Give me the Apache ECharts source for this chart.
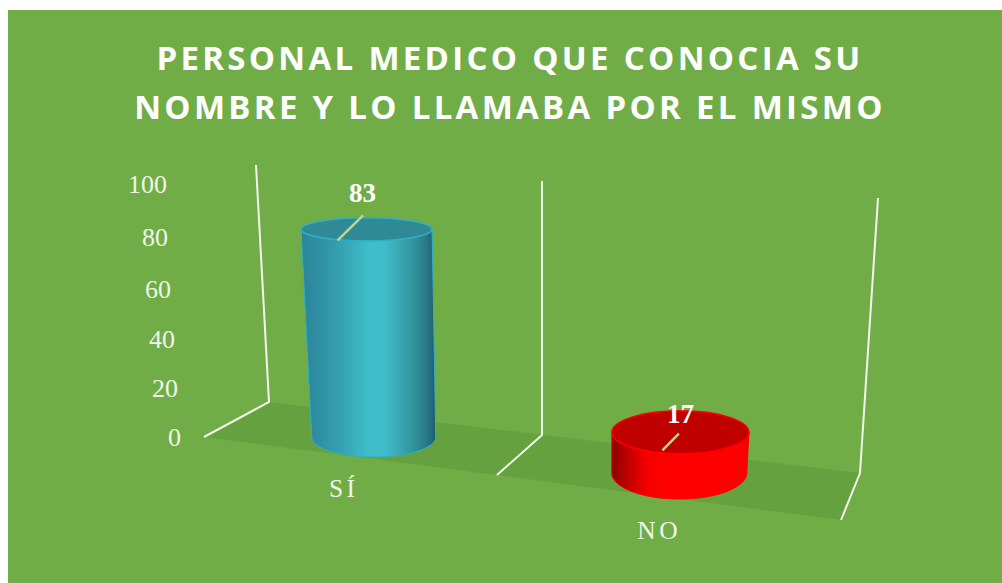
<!DOCTYPE html>
<html><head><meta charset="utf-8">
<style>
html,body{margin:0;padding:0;background:#fff;width:1002px;height:583px;overflow:hidden}
#c{width:1002px;height:583px}
#c text[style*="Open Sans"]{letter-spacing:3.3px}
#c text[style*="Liberation Serif"][style*="25.5px"]{letter-spacing:3.5px}
</style>
<script src="https://cdn.jsdelivr.net/npm/echarts@6/dist/echarts.min.js"></script>
</head><body><div id="c"></div>
<script>
const categories = ['SÍ', 'NO'];
const values = [83, 17];
const tickLabels = [0, 20, 40, 60, 80, 100];
const titleLines = ['PERSONAL MEDICO QUE CONOCIA SU', 'NOMBRE Y LO LLAMABA POR EL MISMO'];

/* perspective look of the plot */
const floorSlope = 0.118, leanPerPx = 0.000205, leanCentre = 542;
const barLook = [
  {rx:62, ry:20, rxUp:0.042, ryUp:-0.102, top:'#2f8a96', edge:'#2fb0c8',
   stops:[[0,'#2c8498'],[0.12,'#2f8ea2'],[0.3,'#36a2b2'],[0.5,'#40bdca'],[0.62,'#40bdca'],[0.82,'#33979f'],[0.92,'#2a7c8c'],[1,'#1f5c6c']],
   leader:[[-3.5,-14],[-29,11]], labelDy:-36, labelDx:-4},
  {rx:67.5, ry:26, rxUp:0.06, ryUp:-0.265, top:'#c00000', edge:'#ff0000',
   stops:[[0,'#8c0000'],[0.08,'#b00000'],[0.25,'#f40000'],[0.4,'#ff0000'],[0.97,'#ff0000'],[1,'#d80000']],
   leader:[[-1.5,1.3],[-18,18]], labelDy:-18, labelDx:0}
];
const labelX = {0:181, 20:178, 40:175, 60:171, 80:168, 100:167};

function heightOf(api, v){
  const h = api.coord([0,0])[1] - api.coord([0,v])[1];
  return h * 0.9358 * (1 + 0.000686*v);
}
function basePoint(api, i){
  const p0 = api.coord([0,0]), p = api.coord([i,0]);
  return [p[0], p[1] + (p[0]-p0[0])*floorSlope];
}

function renderBar(params, api){
  const i = api.value(0), v = api.value(1), look = barLook[i];
  const b = basePoint(api, i), h = heightOf(api, v);
  const topC = [b[0] + h*(b[0]-leanCentre)*leanPerPx, b[1]-h];
  const rxT = look.rx + look.rxUp*v, ryT = look.ry + look.ryUp*v;
  const pts = [[topC[0]-rxT, topC[1]]];
  for(let k=0;k<=48;k++){
    const a = Math.PI - Math.PI*k/48;
    pts.push([b[0]+look.rx*Math.cos(a), b[1]+look.ry*Math.sin(a)]);
  }
  pts.push([topC[0]+rxT, topC[1]]);
  for(let k=48;k>=0;k--){
    const a = Math.PI - Math.PI*k/48;
    pts.push([topC[0]+rxT*Math.cos(a), topC[1]+ryT*Math.sin(a)]);
  }
  const grad = new echarts.graphic.LinearGradient(0,0,1,0,
    look.stops.map(s=>({offset:s[0],color:s[1]})));
  return {type:'group',children:[
    {type:'polygon',shape:{points:pts},style:{fill:grad,stroke:look.edge,lineWidth:1}},
    {type:'ellipse',shape:{cx:topC[0],cy:topC[1],rx:rxT,ry:ryT},style:{fill:look.top,stroke:look.edge,lineWidth:1.5}},
    {type:'line',shape:{x1:topC[0]+look.leader[0][0],y1:topC[1]+look.leader[0][1],x2:topC[0]+look.leader[1][0],y2:topC[1]+look.leader[1][1]},
      style:{stroke:'#bcd49a',lineWidth:2.5}},
    {type:'text',style:{text:String(v),x:topC[0]+look.labelDx,y:topC[1]+look.labelDy,
      fill:'#ffffff',font:'bold 27px "Liberation Serif"',textAlign:'center',textVerticalAlign:'middle'}}
  ]};
}
function renderCat(params, api){
  const i = api.value(0), b = basePoint(api, i);
  return {type:'text',style:{text:categories[i],x:b[0]-(i===0?30:20),y:b[1]+(i===0?51:57),
    fill:'#f0f5e8',font:'25.5px "Liberation Serif"',textAlign:'center',textVerticalAlign:'middle'}};
}
function renderTick(params, api){
  const v = api.value(0), y0 = api.coord([0,0])[1];
  return {type:'text',style:{text:String(v),x:labelX[v],y:y0-heightOf(api,v),
    fill:'#f0f5e8',font:'26px "Liberation Serif"',textAlign:'right',textVerticalAlign:'middle'}};
}

const floorColor = '#65a23f', wallColor = '#f2f6ea';
const wallLines = [
  [[204,437],[269,402],[256,165]],
  [[497,475],[542,435],[542,181]],
  [[841,520],[860,473],[878,198]]
];
const option = {
  animation:false,
  backgroundColor:'#ffffff',
  title:{text:titleLines.join('\n'),left:505,top:28,textAlign:'center',
    textStyle:{color:'#ffffff',fontFamily:'Open Sans',fontWeight:'bold',fontSize:33,lineHeight:49}},
  grid:{left:221,right:170,top:184,bottom:146},
  xAxis:{type:'category',data:categories,show:false},
  yAxis:{type:'value',min:0,max:100,interval:20,show:false},
  graphic:[
    {type:'rect',z:-10,shape:{x:8,y:10,width:994,height:573},style:{fill:'#70ad47'}},
    {type:'polygon',z:-9,shape:{points:[[204,437],[269,402],[860,473],[841,520]]},style:{fill:floorColor}},
    ...wallLines.map(p=>({type:'polyline',z:-8,shape:{points:p},style:{fill:'none',stroke:wallColor,lineWidth:2}}))
  ],
  series:[
    {type:'custom',renderItem:renderBar,coordinateSystem:'cartesian2d',encode:{x:0,y:1},clip:false,
      data:values.map((v,i)=>[i,v]),silent:true},
    {type:'custom',renderItem:renderCat,coordinateSystem:'cartesian2d',clip:false,
      data:categories.map((c,i)=>[i,0]),silent:true},
    {type:'custom',renderItem:renderTick,coordinateSystem:'cartesian2d',clip:false,
      encode:{x:1,y:0},data:tickLabels.map(t=>[t,0]),silent:true}
  ]
};
const chart = echarts.init(document.getElementById('c'),null,{renderer:'svg'});
chart.setOption(option);
</script></body></html>
